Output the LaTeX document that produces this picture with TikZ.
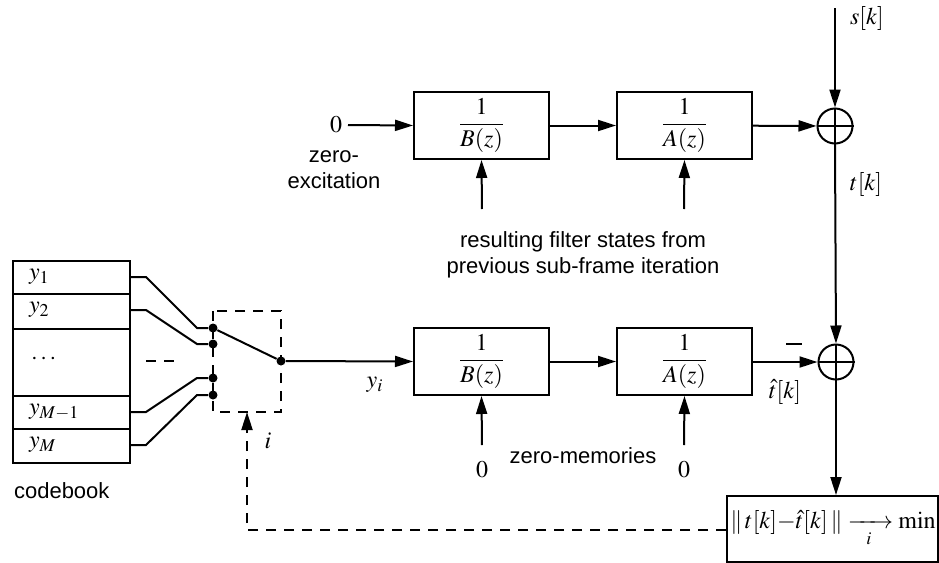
\documentclass[tikz,border=0pt]{standalone}
\usepackage{amsmath}
\usepackage{mathptmx}
\usepackage[no-math]{fontspec}
\setmainfont{Liberation Serif}
\setsansfont{Liberation Sans}
\usetikzlibrary{arrows.meta}
\tikzset{
  wire/.style={line width=1pt},
  sig/.style={wire,-{Triangle[length=9pt,width=5.5pt]}},
  dsig/.style={sig,dash pattern=on 5pt off 4pt},
  filt/.style={draw,line width=1pt,minimum width=67.5pt,minimum height=33.5pt,inner sep=0pt,font=\fontsize{12}{14}\selectfont},
  sumnode/.style={draw,circle,line width=1pt,minimum size=17.5pt,inner sep=0pt},
  dot/.style={circle,fill,inner sep=0pt,minimum size=4.5pt},
  txt/.style={font=\sffamily\fontsize{11}{13}\selectfont},
  mlab/.style={font=\fontsize{12}{14}\selectfont},
  cell/.style={draw,line width=1pt,minimum width=58.5pt,inner sep=0pt,anchor=north west}
}
\begin{document}
\begin{tikzpicture}[x=0.5pt,y=-0.5pt]
\useasboundingbox (0,0) rectangle (939,563);

% codebook
\node[cell,minimum height=16.5pt] (c1) at (12,260) {};
\node[cell,minimum height=17.5pt] (c2) at (12,293) {};
\node[cell,minimum height=33.5pt] (c3) at (12,328) {};
\node[cell,minimum height=16.5pt] (c4) at (12,395) {};
\node[cell,minimum height=17pt]   (c5) at (12,428) {};
\node[mlab,anchor=west] at (22,277) {$y_1$};
\node[mlab,anchor=west] at (22,310) {$y_2$};
\node[mlab,anchor=west] at (24,359) {$\cdots$};
\node[mlab,anchor=west] at (22,412) {$y_{M-1}$};
\node[mlab,anchor=west] at (22,445) {$y_M$};
\node[txt,anchor=west] at (7,491) {codebook};

% switch contacts
\node[dot] (d1) at (213,328) {};
\node[dot] (d2) at (213,344) {};
\node[dot] (d3) at (213,378) {};
\node[dot] (d4) at (213,395) {};
\node[dot] (dout) at (281,361) {};
\draw[wire] (c1.east |- 0,277) -- (146,277) -- (197,328) -- (d1);
\draw[wire] (c2.east |- 0,310) -- (146,310) -- (197,344) -- (d2);
\draw[wire] (c4.east |- 0,412) -- (146,412) -- (197,378) -- (d3);
\draw[wire] (c5.east |- 0,445) -- (146,445) -- (197,395) -- (d4);
\draw[wire] (d1) -- (dout);
\draw[wire,dash pattern=on 5pt off 4pt] (146,361) -- (181,361);
\draw[wire,dash pattern=on 5pt off 4pt] (213,311) rectangle (281,412);
\coordinate (swb) at (247,412);
\node[mlab] at (268,441) {$i$};

% upper path: zero-excitation response
\node[filt] (b1) at (481.5,125.5) {$\dfrac{1}{B(z)}$};
\node[filt] (a1) at (684.5,125.5) {$\dfrac{1}{A(z)}$};
\node[sumnode] (s1) at (835,126) {};
\draw[wire] (s1.north) -- (s1.south) (s1.west) -- (s1.east);
\node[mlab] (zero0) at (336,125) {$0$};
\draw[sig] (348,125) -- (b1.west);
\draw[sig] (b1) -- (a1);
\draw[sig] (a1) -- (s1);
\node[txt,align=center] at (334,170) {zero-\\excitation};
\coordinate (sk) at (835,8);
\draw[sig] (sk) -- (s1.north);
\node[mlab,anchor=west] at (843,18) {$s[k]$};
\node[mlab,anchor=west] at (843,184) {$t[k]$};
\coordinate (b1in) at (482,209);
\coordinate (a1in) at (684,209);
\draw[sig] (b1in) -- (b1.south);
\draw[sig] (a1in) -- (a1.south);
\node[txt,align=center] at (583,255) {resulting filter states from\\previous sub-frame iteration};

% lower path: codebook excitation
\node[filt] (b2) at (481.5,361.5) {$\dfrac{1}{B(z)}$};
\node[filt] (a2) at (684.5,361.5) {$\dfrac{1}{A(z)}$};
\node[sumnode] (s2) at (836,362) {};
\draw[wire] (s2.north) -- (s2.south) (s2.west) -- (s2.east);
\draw[sig] (dout) -- (b2.west);
\draw[sig] (b2) -- (a2);
\draw[sig] (a2.east |- s2) -- (s2);
\draw[sig] (s1.south) -- (s2.north);
\node[mlab] at (375,385) {$y_i$};
\node[mlab] at (785,392) {$\hat{t}[k]$};
\draw[line width=1.2pt] (786,344) -- (802,344);
\coordinate (b2in) at (482,445);
\coordinate (a2in) at (684,445);
\draw[sig] (b2in) -- (b2.south);
\draw[sig] (a2in) -- (a2.south);
\node[mlab] at (482,470) {$0$};
\node[mlab] at (684,470) {$0$};
\node[txt] at (583,456) {zero-memories};

% error criterion and search loop
\node[draw,line width=1pt,anchor=north west,minimum width=105.5pt,minimum height=33pt,inner sep=0pt] (crit) at (726,495) {};
\node[mlab,anchor=west,inner sep=0pt] at (730,529) {$\|\,t[k]{-}\hat{t}[k]\,\|\xrightarrow[i]{\hspace{1.3em}}\min$};
\draw[sig] (s2.south) -- (crit.north -| s2);
\draw[dsig] (crit.west |- 0,530) -- (247,530) -- (swb);
\end{tikzpicture}
\end{document}
